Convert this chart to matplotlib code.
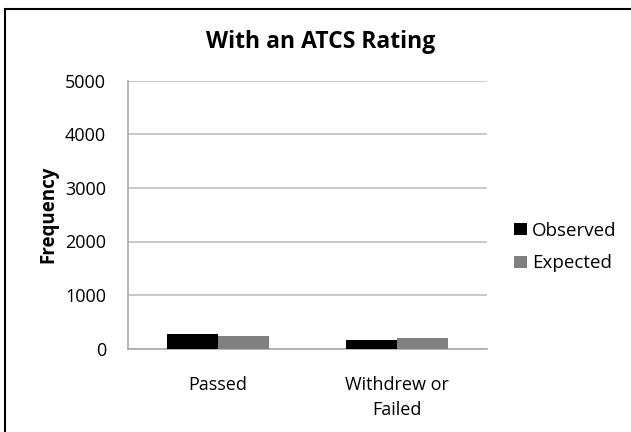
import matplotlib
matplotlib.use("Agg")
import matplotlib.pyplot as plt
import numpy as np
from matplotlib.patches import Rectangle

categories = ["Passed", "Withdrew or\nFailed"]
observed = [280, 165]
expected = [245, 205]
series_names = ["Observed", "Expected"]
yticks = [0, 1000, 2000, 3000, 4000, 5000]
title = "With an ATCS Rating"
ylabel = "Frequency"

plt.rcParams['font.family'] = ['Open Sans', 'DejaVu Sans']

W, H = 631, 432
fig = plt.figure(figsize=(W/100, H/100), dpi=100)
ax = fig.add_axes([128.3/W, 1-348.7/H, (486.7-128.3)/W, (348.7-80.7)/H])

x = np.arange(len(categories))
bw = 0.285
ax.bar(x - bw/2, observed, bw, color='black', label=series_names[0], zorder=3)
ax.bar(x + bw/2, expected, bw, color='#808080', label=series_names[1], zorder=3)

ax.set_xlim(-0.5, len(categories) - 0.5)
ax.set_ylim(0, 5000)
ax.set_yticks(yticks)
ax.set_yticklabels([str(v) for v in yticks], fontsize=13)
ax.set_xticks(x)
ax.set_xticklabels(categories, fontsize=13, linespacing=1.5)
ax.tick_params(axis='both', length=0)
ax.tick_params(axis='y', pad=16)
ax.tick_params(axis='x', pad=20)
ax.yaxis.grid(True, color='#bfbfbf', linewidth=1.2, zorder=0)
for s in ['top', 'right']:
    ax.spines[s].set_visible(False)
for s in ['left', 'bottom']:
    ax.spines[s].set_color('#aaaaaa')
    ax.spines[s].set_linewidth(1.2)

ax.set_ylabel(ylabel, fontsize=13.5, fontweight='bold', labelpad=5)
fig.text(321/W, 1-42/H, title, ha='center', va='center', fontsize=16.5, fontweight='bold')

leg = fig.legend(loc='center left', bbox_to_anchor=(505/W, 1-247/H), frameon=False,
                 fontsize=13.5, handlelength=0.65, handleheight=0.65, handletextpad=0.3,
                 labelspacing=0.8, borderpad=0)

fig.patches.append(Rectangle((5/W, -0.1), 1.2, 1-9/H+0.1, transform=fig.transFigure,
                             fill=False, edgecolor='black', linewidth=1.5))

fig.savefig("out.png", dpi=100)
